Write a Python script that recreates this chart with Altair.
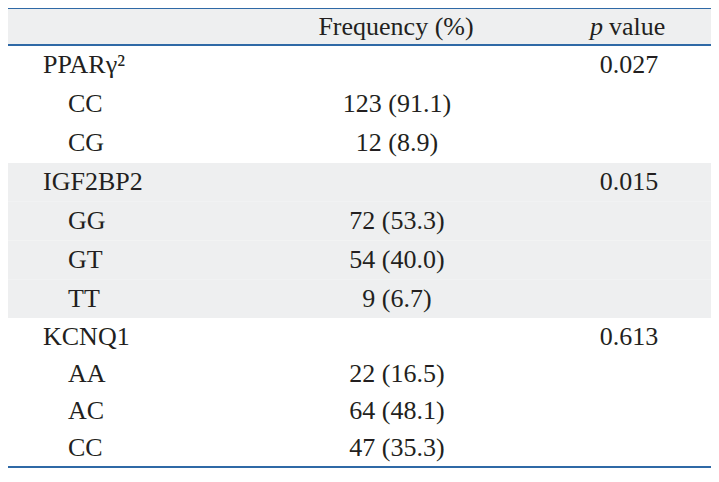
import altair as alt
import pandas as pd

# ---- data ----
labels = ["PPARγ²", "CC", "CG", "IGF2BP2", "GG", "GT", "TT", "KCNQ1", "AA", "AC", "CC"]
levels = [0, 1, 1, 0, 1, 1, 1, 0, 1, 1, 1]
frequency = ["", "123 (91.1)", "12 (8.9)", "", "72 (53.3)", "54 (40.0)", "9 (6.7)",
             "", "22 (16.5)", "64 (48.1)", "47 (35.3)"]
p_values = ["0.027", "", "", "0.015", "", "", "", "0.613", "", "", ""]
shaded_rows = [0, 4, 5, 6, 7]          # header + IGF2BP2 block
rule_rows = [-0.5, 0.5, 11.5]          # top, under header, bottom
header_freq = "Frequency (%)"

FONT = "Liberation Serif"
TXT = "#231f20"
BLUE = "#2f69a6"
GREY = "#eeeff0"
FS = 26

body = pd.DataFrame({
    "row": list(range(1, len(labels) + 1)),
    "label": labels,
    "level": levels,
    "freq": frequency,
    "p": p_values,
})
bands = pd.DataFrame({"row": shaded_rows})
rules = pd.DataFrame({"y": rule_rows})
header = pd.DataFrame({"row": [0], "freq": [header_freq], "p": ["p"], "v": ["value"]})

yscale = alt.Scale(domain=[-0.5, 0.5, 3.5, 7.5, 11.5], range=[0, 37, 155, 310, 459],
                   zero=False, nice=False)
Y = alt.Y("row:Q", scale=yscale, axis=None)

band_layer = alt.Chart(bands).transform_calculate(
    y0="datum.row - 0.5", y1="datum.row + 0.5"
).mark_rect(color=GREY, strokeWidth=0).encode(
    x=alt.value(0), x2=alt.value(703),
    y=alt.Y("y0:Q", scale=yscale, axis=None), y2="y1:Q",
)

rule_layer = alt.Chart(rules).mark_rule(color=BLUE, strokeWidth=2).encode(
    x=alt.value(0), x2=alt.value(703),
    y=alt.Y("y:Q", scale=yscale, axis=None),
)

base_text = dict(font=FONT, fontSize=FS, color=TXT, baseline="middle")

group_lbl = alt.Chart(body).transform_filter("datum.level == 0").mark_text(
    align="left", **base_text).encode(x=alt.value(35), y=Y, text="label:N")
sub_lbl = alt.Chart(body).transform_filter("datum.level == 1").mark_text(
    align="left", **base_text).encode(x=alt.value(60), y=Y, text="label:N")
freq_txt = alt.Chart(body).mark_text(align="center", **base_text).encode(
    x=alt.value(389), y=Y, text="freq:N")
p_txt = alt.Chart(body).mark_text(align="center", **base_text).encode(
    x=alt.value(621), y=Y, text="p:N")

h_freq = alt.Chart(header).mark_text(align="center", **base_text).encode(
    x=alt.value(388), y=Y, text="freq:N")
h_p = alt.Chart(header).mark_text(align="right", fontStyle="italic", **base_text).encode(
    x=alt.value(595), y=Y, text="p:N")
h_v = alt.Chart(header).mark_text(align="left", **base_text).encode(
    x=alt.value(601), y=Y, text="v:N")

chart = alt.layer(
    band_layer, rule_layer, group_lbl, sub_lbl, freq_txt, p_txt, h_freq, h_p, h_v
).properties(
    width=703, height=460, padding=0, autosize="none", background="white"
).configure_view(stroke=None)

chart.save("out.html", embed_options={"renderer": "svg", "actions": False})
